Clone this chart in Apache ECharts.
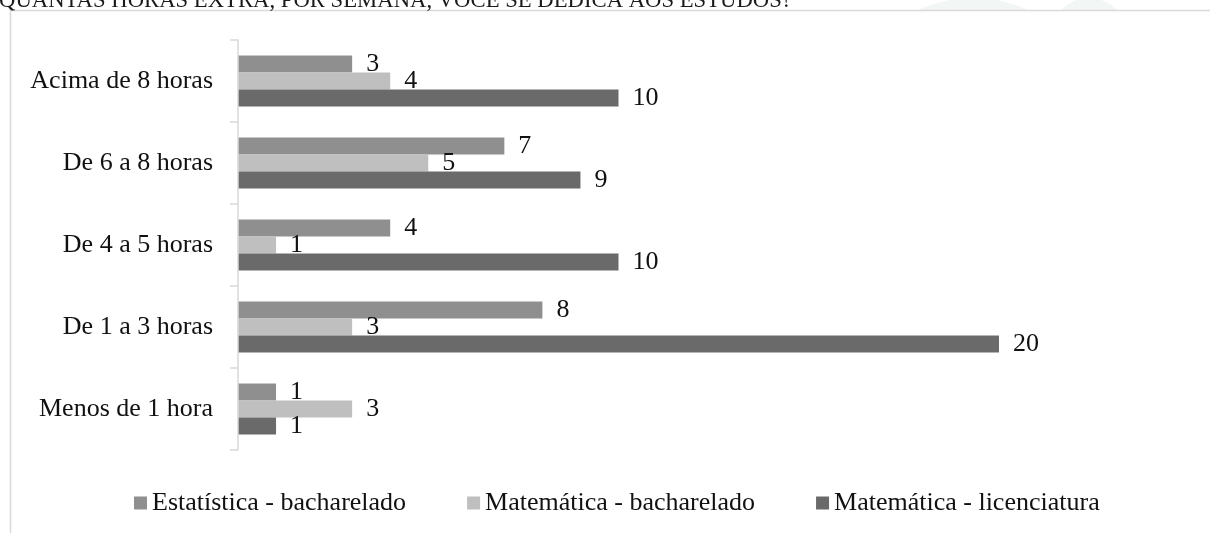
<!DOCTYPE html>
<html>
<head>
<meta charset="utf-8">
<script src="https://cdn.jsdelivr.net/npm/echarts@6/dist/echarts.min.js"></script>
<style>
  html, body { margin: 0; padding: 0; background: #fff; }
  #chart { width: 1210px; height: 533px; }
</style>
</head>
<body>
<div id="chart"></div>
<script>
var categories = ['Acima de 8 horas', 'De 6 a 8 horas', 'De 4 a 5 horas', 'De 1 a 3 horas', 'Menos de 1 hora'];
var seriesNames = ['Estatística - bacharelado', 'Matemática - bacharelado', 'Matemática - licenciatura'];
var estatisticaBach = [3, 7, 4, 8, 1];
var matematicaBach = [4, 5, 1, 3, 3];
var matematicaLic = [10, 9, 10, 20, 1];
var titleText = 'QUANTAS HORAS EXTRA, POR SEMANA, VOCÊ SE DEDICA AOS ESTUDOS?';

var serif = '"Liberation Serif", "DejaVu Serif", serif';
var colors = ['#8f8f8f', '#bfbfbf', '#6a6a6a'];

var chart = echarts.init(document.getElementById('chart'));

function makeSeries(name, data, color) {
  return {
    name: name,
    type: 'bar',
    data: data,
    barWidth: 17,
    barGap: '0%',
    itemStyle: { color: color },
    label: {
      show: true,
      position: 'right',
      distance: 14,
      color: '#111',
      fontSize: 26,
      fontFamily: serif
    }
  };
}

var option = {
  animation: false,
  color: colors,
  graphic: [
    // faint watermark shapes behind the chart box
    { type: 'circle', shape: { cx: 973, cy: 130, r: 132 }, style: { fill: '#f2f6f4' }, z: 0 },
    { type: 'circle', shape: { cx: 1089, cy: 36, r: 38 }, style: { fill: '#f2f6f4' }, z: 0 },
    {
      type: 'rect', shape: { x: 10.5, y: 10.5, width: 1300, height: 600 },
      style: { fill: '#fff', stroke: '#d9d9d9', lineWidth: 1.5 }, z: 1
    },
    {
      type: 'text', x: -1, y: 1, z: 2,
      style: {
        text: titleText, fill: '#1a1a1a', fontSize: 22.7, fontFamily: serif,
        verticalAlign: 'middle'
      }
    }
  ],
  legend: {
    data: seriesNames,
    left: 129,
    top: 485,
    icon: 'rect',
    itemWidth: 13,
    itemHeight: 13,
    itemGap: 61,
    textStyle: { fontSize: 26, fontFamily: serif, color: '#111' }
  },
  grid: {
    left: 238,
    right: 211,
    top: 40,
    bottom: 83,
    containLabel: false
  },
  xAxis: {
    type: 'value',
    min: 0,
    max: 20,
    show: false
  },
  yAxis: {
    type: 'category',
    data: categories,
    inverse: true,
    z: 5,
    axisLine: { show: true, lineStyle: { color: '#d9d9d9', width: 1.5 } },
    axisTick: { show: true, length: 8, lineStyle: { color: '#d9d9d9', width: 1.5 } },
    axisLabel: { margin: 25, fontSize: 26, fontFamily: serif, color: '#111' },
    splitLine: { show: false }
  },
  series: [
    makeSeries(seriesNames[0], estatisticaBach, colors[0]),
    makeSeries(seriesNames[1], matematicaBach, colors[1]),
    makeSeries(seriesNames[2], matematicaLic, colors[2])
  ]
};

chart.setOption(option);
</script>
</body>
</html>
